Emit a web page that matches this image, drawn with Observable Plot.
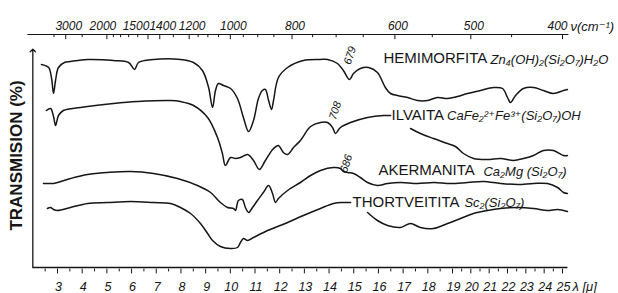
<!DOCTYPE html>
<html><head><meta charset="utf-8">
<script src="https://cdn.jsdelivr.net/npm/d3@7"></script>
<script src="https://cdn.jsdelivr.net/npm/@observablehq/plot@0.6"></script>
<style>
html,body{margin:0;padding:0;background:#fff;}
#chart svg{display:block}
</style></head><body><div id="chart"></div>
<script>
// Spectra: [wavelength λ (µm), relative transmission (arbitrary, curves offset)]
const hemimorfita = [[2.35,101.5],[2.64,100],[2.76,94.5],[2.84,87],[2.92,93.5],[3.04,100],[3.28,102.5],[3.53,103],[4.22,104],[5.27,103.5],[5.88,102.5],[6.12,99],[6.28,102.5],[6.89,104],[7.98,104],[8.51,102.5],[8.87,98.5],[9.12,90],[9.28,80],[9.40,88.5],[9.52,92],[9.72,91],[10.01,89.5],[10.29,84.5],[10.53,75],[10.74,68],[10.94,73.5],[11.14,84.5],[11.30,88.5],[11.42,89],[11.55,83.5],[11.67,79],[11.75,83.5],[11.95,95],[12.32,100],[12.96,103.5],[13.65,104],[13.94,104],[14.34,102],[14.58,98.5],[14.83,94],[14.99,97],[15.27,99.5],[15.60,100],[15.96,97.5],[16.28,90],[16.49,87],[16.77,86],[17.18,85],[17.58,83.5],[17.99,83.5],[18.39,85],[18.80,84.5],[19.27,85.5],[19.82,87],[20.53,88.5],[21.24,90],[21.73,89.5],[22.00,85],[22.16,82.5],[22.44,86],[22.87,89.5],[23.42,90],[23.96,88.5],[24.51,87],[25.06,88.5],[25.27,89]];
const ilvaita = [[2.55,78.5],[2.72,79.5],[2.84,75.5],[2.92,71],[3.04,76],[3.24,78.5],[3.93,80],[5.27,82],[6.24,83],[7.58,83.5],[7.98,83],[8.51,81],[9.08,75],[9.48,65],[9.68,57],[9.80,51],[10.01,55],[10.21,54.5],[10.41,55],[10.70,56.5],[10.94,53.5],[11.18,49],[11.42,53.5],[11.75,59.5],[11.95,61],[12.15,57.5],[12.32,56.5],[12.56,60],[12.84,63.5],[13.25,70.5],[13.65,72.5],[13.94,72.5],[14.14,70],[14.26,67],[14.46,70],[14.87,72.5],[15.56,75],[16.20,76],[16.49,76]];
const ilvaitaFar = [[17.30,69.5],[17.70,67],[18.23,64.5],[18.80,62],[19.16,60.5],[19.60,57],[20.15,54.5],[20.91,54],[21.62,54.5],[22.33,53.5],[22.87,54.5],[23.42,56],[23.96,58.5],[24.51,58.5],[25.06,56],[25.27,56]];
const akermanita = [[2.43,42],[2.72,42],[2.84,42],[3.00,42.5],[3.53,44.5],[4.22,46.5],[5.03,47.5],[5.96,48],[6.89,47],[7.86,44.5],[8.67,41],[9.20,37.5],[9.60,32.5],[9.89,30],[10.13,29.5],[10.21,28.5],[10.33,33.5],[10.49,34],[10.61,30],[10.74,27.5],[10.90,30],[11.10,33.5],[11.34,37.5],[11.55,41],[11.71,37],[11.83,32.5],[11.95,34.5],[12.32,38.5],[12.84,42.5],[13.25,46],[13.65,48.5],[14.18,50],[14.46,49.5],[14.58,48],[14.75,47.5],[14.99,47],[15.27,45],[15.56,42.5],[15.96,41],[16.37,42],[16.89,42.5],[17.58,42],[18.23,42.5],[18.92,42],[19.82,42.5],[20.69,43],[21.62,42],[22.55,41.5],[23.42,42],[24.18,42],[24.73,40],[25.06,37.5],[25.27,37]];
const thortveitita = [[2.59,29.5],[2.72,30],[2.84,29],[3.00,28.5],[3.53,30],[4.22,32],[5.03,32.5],[5.96,33],[6.89,32.5],[7.58,32],[7.98,30],[8.39,27],[8.79,22],[9.08,17],[9.28,13.5],[9.60,10.5],[10.01,9.5],[10.29,10],[10.41,12.5],[10.53,14.5],[10.70,13.5],[10.94,15],[11.51,18.5],[12.32,22.5],[12.96,26],[13.65,29.5],[14.18,32],[14.58,32.5],[14.87,32.5]];
const thortveititaFar = [[15.56,27.5],[15.96,23.5],[16.37,21],[16.89,20],[17.30,22],[17.70,20],[18.23,19.5],[18.80,22],[19.44,24.5],[20.15,27],[20.91,28.5],[21.62,29.5],[22.55,30],[23.42,29.5],[24.18,28.5],[24.73,29],[25.27,28]];

// Axis ticks
const lambdaTicks = [3,4,5,6,7,8,9,10,11,12,13,14,15,16,17,18,19,20,21,22,23,24,25];
const lambdaMinor = [2.5,3.5,4.5,5.5,6.5,7.5,8.5,9.5,10.5,11.5,12.5,13.5,14.5,15.5,16.5,17.5,18.5,19.5,20.5,21.5,22.5,23.5,24.5];
const nuMajor = [3000,2000,1500,1400,1200,1000,800,600,500,400];
const nuMinor = [3500,2500,1900,1800,1700,1600,1300,1150,1100,1050,950,900,850,750,700,650,550,450];

// Names and formulas
const minerals = ["HEMIMORFITA","ILVAITA","AKERMANITA","THORTVEITITA"];
const formulas = ["Zn₄(OH)₂(Si₂O₇)H₂O","CaFe₂²⁺Fe³⁺(Si₂O₇)OH","Ca₂Mg (Si₂O₇)","Sc₂(Si₂O₇)"];
const bands = [679, 708, 686]; // cm-1 annotations

// layout (positions in plot units)
const nameAt = [[16.20,104.5],[16.53,76],[16.00,48.5],[14.95,32.5]];
const formulaAt = [[21.07,104],[18.78,76],[20.69,48],[19.65,32.5]];
const bandY = [106, 78.5, 52];

const ink = "#161616";
const TOP = 116.5;
const sans = "'Liberation Sans', Arial, 'DejaVu Sans', sans-serif";
const ital = {fontStyle: "italic", fill: ink, fontFamily: sans};
const line = (data) => Plot.line(data, {x: d => d[0], y: d => d[1], stroke: ink, strokeWidth: 1.5, curve: "catmull-rom"});

const chart = Plot.plot({
  width: 618, height: 293, margin: 0,
  style: {background: "#fff", color: ink, fontFamily: sans},
  x: {type: "linear", domain: [3, 19, 25], range: [57, 452, 562], axis: null},
  y: {type: "linear", domain: [0, 100], range: [267, 67], axis: null},
  marks: [
    // frame: bottom axis, left axis with arrow, top wavenumber axis
    Plot.ruleY([0], {x1: 2, x2: 25.3, stroke: ink, strokeWidth: 1.3}),
    Plot.link([0], {x1: 2, x2: 2, y1: 0, y2: 108.5, stroke: ink, strokeWidth: 1.3, markerEnd: "arrow"}),
    Plot.ruleY([TOP], {x1: 1.8, x2: 25.35, stroke: ink, strokeWidth: 1.2}),
    Plot.ruleX(nuMajor, {x: d => 1e4 / d, y1: TOP, y2: TOP - 2.6, stroke: ink, strokeWidth: 1}),
    Plot.ruleX(nuMinor, {x: d => 1e4 / d, y1: TOP, y2: TOP - 1.6, stroke: ink, strokeWidth: 1}),
    Plot.text(nuMajor.filter(d => d !== 1500 && d !== 400 && d !== 2000), {x: d => 1e4 / d, y: 120.5, text: d => String(d), dx: 3, fontSize: 12, ...ital}),
    Plot.text([2000], {x: d => 1e4 / d, y: 120.5, text: d => String(d), dx: -4, fontSize: 12, ...ital}),
    Plot.text([1500], {x: d => 1e4 / d, y: 120.5, text: d => String(d), dx: -12, fontSize: 12, ...ital}),
    Plot.text([400], {x: d => 1e4 / d, y: 120.5, text: d => String(d), dx: -5, fontSize: 12, ...ital}),
    Plot.text([400], {x: d => 1e4 / d, y: 120.5, text: () => "ν(cm⁻¹)", dx: 8, textAnchor: "start", fontSize: 13, ...ital}),
    Plot.ruleX(lambdaTicks, {x: d => d, y1: -0.8, y2: -3.2, stroke: ink, strokeWidth: 1}),
    Plot.ruleX(lambdaMinor, {x: d => d, y1: -0.8, y2: -2.2, stroke: ink, strokeWidth: 1}),
    Plot.text(lambdaTicks, {x: d => d, y: -9.5, text: d => String(d), dx: 1, fontSize: 12.5, ...ital}),
    Plot.text([25], {x: d => d, y: -9.5, text: () => "λ [μ]", dx: 10, textAnchor: "start", fontSize: 13, ...ital}),
    Plot.text(["TRANSMISION (%)"], {x: 1.34, y: 56, text: d => d, rotate: -90, fontSize: 17, fontWeight: "bold", fill: ink, fontFamily: sans}),
    // spectra
    line(hemimorfita), line(ilvaita), line(ilvaitaFar),
    line(akermanita), line(thortveitita), line(thortveititaFar),
    // labels
    Plot.text(minerals, {x: (d, i) => nameAt[i][0], y: (d, i) => nameAt[i][1], text: d => d, textAnchor: "start", fontSize: 15, fill: ink, fontFamily: sans}),
    Plot.text(formulas, {x: (d, i) => formulaAt[i][0], y: (d, i) => formulaAt[i][1], text: d => d, textAnchor: "start", fontSize: 13, ...ital}),
    Plot.text(bands, {x: d => 1e4 / d, y: (d, i) => bandY[i], text: d => String(d), dx: 3, rotate: -72, fontSize: 11, ...ital})
  ]
});
document.getElementById("chart").appendChild(chart);
</script></body></html>
